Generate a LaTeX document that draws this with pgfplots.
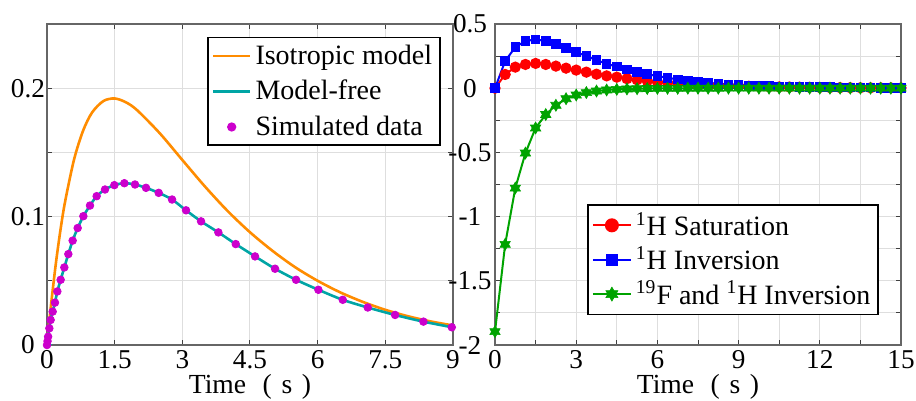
\documentclass[border=0pt]{standalone}
\usepackage{pgfplots}
\pgfplotsset{compat=1.18}
\usepackage{fontspec}
\setmainfont{Liberation Serif}
\usetikzlibrary{plotmarks}
\definecolor{orng}{HTML}{FF8C00}
\definecolor{teal2}{HTML}{00A5A5}
\definecolor{magd}{HTML}{CC00CC}
\definecolor{grn}{HTML}{00A300}

% filled six-point star (hexagram)
\pgfdeclareplotmark{hexstar}{%
  \pgfpathmoveto{\pgfpointpolar{90}{\pgfplotmarksize}}%
  \pgfpathlineto{\pgfpointpolar{120}{0.577\pgfplotmarksize}}%
  \pgfpathlineto{\pgfpointpolar{150}{\pgfplotmarksize}}%
  \pgfpathlineto{\pgfpointpolar{180}{0.577\pgfplotmarksize}}%
  \pgfpathlineto{\pgfpointpolar{210}{\pgfplotmarksize}}%
  \pgfpathlineto{\pgfpointpolar{240}{0.577\pgfplotmarksize}}%
  \pgfpathlineto{\pgfpointpolar{270}{\pgfplotmarksize}}%
  \pgfpathlineto{\pgfpointpolar{300}{0.577\pgfplotmarksize}}%
  \pgfpathlineto{\pgfpointpolar{330}{\pgfplotmarksize}}%
  \pgfpathlineto{\pgfpointpolar{0}{0.577\pgfplotmarksize}}%
  \pgfpathlineto{\pgfpointpolar{30}{\pgfplotmarksize}}%
  \pgfpathlineto{\pgfpointpolar{60}{0.577\pgfplotmarksize}}%
  \pgfpathclose
  \pgfusepathqfillstroke
}

\pgfplotsset{
  panel/.style={
    width=203pt,height=160.5pt,scale only axis,
    axis line style={draw=black!60,line width=0.6pt},
    tick style={draw=black!75,line width=0.5pt},
    major tick length=2.5pt,minor tick length=2.5pt,
    tick align=inside,
    grid=both,
    major grid style={draw=black!13,line width=0.5pt},
    minor grid style={draw=black!13,line width=0.5pt},
    tick label style={font=\rmfamily\fontsize{13.6}{15}\selectfont},
    /pgf/number format/assume math mode=true,
    xticklabel style={anchor=base,yshift=-11.8pt},
    xlabel style={font=\rmfamily\fontsize{13.8}{16}\selectfont,at={(axis description cs:0.5,0)},anchor=base,yshift=-24.5pt},
    xlabel={Time\hspace{0.6em}(\hspace{0.35em}s\hspace{0.35em})},
    legend style={font=\rmfamily\fontsize{14}{16}\selectfont,draw=black,line width=0.8pt,
      inner xsep=2pt,inner ysep=1.5pt},
    legend cell align=left,
  }
}

\begin{document}
\begin{tikzpicture}
\useasboundingbox (-23.5pt,-28pt) rectangle (434.5pt,172.5pt);

\begin{axis}[panel,at={(0pt,0pt)},anchor=south west,
  xmin=0,xmax=9,ymin=0,ymax=0.25,
  xtick={0,1.5,3,4.5,6,7.5,9},
  xticklabels={0,1.5,3,4.5,6,7.5,9},
  ytick={0,0.1,0.2},yticklabels={0,0.1,0.2},
  minor ytick={0.05,0.15,0.25},
  yticklabel style={anchor=center,xshift=-9.5pt},
  legend style={at={(rel axis cs:0.97,0.96)},anchor=north east,row sep=2.5pt},
]
\addplot[orng,line width=1.3pt,smooth,
  legend image code/.code={\draw[orng,line width=1.3pt] (0pt,0pt) -- (18.5pt,0pt);}] coordinates {
(0,0) (0.05,0.0180) (0.1,0.0347) (0.2,0.0645) (0.3,0.0899) (0.4,0.1114)
(0.6,0.1445) (0.8,0.1669) (1.0,0.1811) (1.25,0.1900) (1.5,0.1920)
(1.75,0.1890) (2.0,0.1828) (2.5,0.1649) (3.0,0.1441) (3.5,0.1235)
(4.0,0.1045) (4.5,0.0878) (5.0,0.0733) (5.5,0.0606) (6.0,0.0500)
(6.5,0.0410) (7.0,0.0336) (7.5,0.0274) (8.0,0.0224) (8.5,0.0184) (9.0,0.0152)};
\addlegendentry{Isotropic model}
\addplot[teal2,line width=1.3pt,
  legend image code/.code={\draw[teal2,line width=1.3pt] (0pt,0pt) -- (18.5pt,0pt);}] coordinates {(0,0) (0.1,0)};
\addlegendentry{Model-free}
\addplot[only marks,mark=*,mark size=1.9pt,draw=magd,fill=magd,
  legend image code/.code={\fill[magd] (9.25pt,0pt) circle (1.9pt);}] coordinates {
(0,0) (0.012,0.003) (0.025,0.0065) (0.052,0.013) (0.081,0.0195) (0.126,0.026)
(0.177,0.033) (0.229,0.0417) (0.303,0.0508) (0.384,0.0604) (0.473,0.0708)
(0.569,0.0813) (0.680,0.0911) (0.806,0.1003) (0.953,0.1086) (1.101,0.1159)
(1.286,0.1211) (1.493,0.1245) (1.715,0.1260) (1.951,0.1250) (2.195,0.1224)
(2.476,0.1185) (2.772,0.1133) (3.082,0.1049) (3.415,0.0963) (3.799,0.0877)
(4.184,0.0786) (4.612,0.0690) (5.055,0.0594) (5.521,0.0508) (6.016,0.0430)
(6.556,0.0352) (7.110,0.0292) (7.716,0.0234) (8.344,0.0182) (8.973,0.0138)};
\addlegendentry{Simulated data}
\addplot[teal2,line width=1.3pt,smooth,forget plot] coordinates {
(0,0) (0.025,0.0065) (0.052,0.013) (0.081,0.0195) (0.126,0.026)
(0.177,0.033) (0.229,0.0417) (0.303,0.0508) (0.384,0.0604) (0.473,0.0708)
(0.569,0.0813) (0.680,0.0911) (0.806,0.1003) (0.953,0.1086) (1.101,0.1159)
(1.286,0.1211) (1.493,0.1245) (1.715,0.1260) (1.951,0.1250) (2.195,0.1224)
(2.476,0.1185) (2.772,0.1133) (3.082,0.1049) (3.415,0.0963) (3.799,0.0877)
(4.184,0.0786) (4.612,0.0690) (5.055,0.0594) (5.521,0.0508) (6.016,0.0430)
(6.556,0.0352) (7.110,0.0292) (7.716,0.0234) (8.344,0.0182) (9,0.0137)};
\end{axis}

\begin{axis}[panel,at={(224pt,0pt)},anchor=south west,
  xmin=0,xmax=15,ymin=-2,ymax=0.5,
  xtick={0,3,6,9,12,15},xticklabels={0,3,6,9,12,15},
  minor xtick={1.5,4.5,7.5,10.5,13.5},
  ytick={-2,-1.5,-1,-0.5,0,0.5},
  yticklabels={-2,-1.5,-1,-0.5,0,0.5},
  minor ytick={-1.75,-1.25,-0.75,-0.25,0.25},
  yticklabel style={anchor=center,xshift=-12.5pt},
  legend style={at={(rel axis cs:0.946,0.093)},anchor=south east,row sep=0pt},
]
\addplot[red,line width=1pt,mark=*,mark size=2.3pt,mark options={fill=red},
  legend image code/.code={\draw[red,line width=1pt] (0pt,0pt) -- (19pt,0pt);
    \fill[red] (9.5pt,0pt) circle (3pt);}] coordinates {
(0,0) (0.375,0.107) (0.75,0.164) (1.125,0.185) (1.5,0.193) (1.875,0.185)
(2.25,0.172) (2.625,0.156) (3,0.141) (3.375,0.125) (3.75,0.109) (4.125,0.096)
(4.5,0.086) (4.875,0.074) (5.25,0.065) (5.625,0.057) (6,0.049) (6.375,0.043)
(6.75,0.038) (7.125,0.034) (7.5,0.030) (7.875,0.026) (8.25,0.023) (8.625,0.020)
(9,0.017) (9.375,0.015) (9.75,0.013) (10.125,0.011) (10.5,0.010) (10.875,0.009)
(11.25,0.008) (11.625,0.007) (12,0.006) (12.375,0.005) (12.75,0.0045)
(13.125,0.004) (13.5,0.0035) (13.875,0.003) (14.25,0.0027) (14.625,0.0024) (15,0.002)};
\addlegendentry{\textsuperscript{1}H Saturation}
\addplot[blue,line width=1pt,mark=square*,mark size=1.9pt,mark options={fill=blue},
  legend image code/.code={\draw[blue,line width=1pt] (0pt,0pt) -- (19pt,0pt);
    \fill[blue] (7pt,-2.5pt) rectangle (12pt,2.5pt);}] coordinates {
(0,0) (0.375,0.211) (0.75,0.320) (1.125,0.367) (1.5,0.380) (1.875,0.367)
(2.25,0.346) (2.625,0.315) (3,0.281) (3.375,0.250) (3.75,0.219) (4.125,0.190)
(4.5,0.168) (4.875,0.146) (5.25,0.128) (5.625,0.109) (6,0.094) (6.375,0.081)
(6.75,0.069) (7.125,0.058) (7.5,0.050) (7.875,0.042) (8.25,0.035) (8.625,0.029)
(9,0.025) (9.375,0.022) (9.75,0.019) (10.125,0.016) (10.5,0.014) (10.875,0.012)
(11.25,0.011) (11.625,0.009) (12,0.008) (12.375,0.007) (12.75,0.006)
(13.125,0.005) (13.5,0.0045) (13.875,0.004) (14.25,0.0035) (14.625,0.003) (15,0.0026)};
\addlegendentry{\textsuperscript{1}H Inversion}
\addplot[grn,line width=1pt,mark=hexstar,mark size=3pt,mark options={fill=grn,line width=0.3pt},
  legend image code/.code={\draw[grn,line width=1pt] (0pt,0pt) -- (19pt,0pt);
    \draw[grn,fill=grn,line width=0.3pt] plot[mark=hexstar,mark size=3.5pt] coordinates {(9.5pt,0pt)};}] coordinates {
(0,-1.896) (0.375,-1.216) (0.75,-0.778) (1.125,-0.505) (1.5,-0.31) (1.875,-0.205)
(2.25,-0.133) (2.625,-0.082) (3,-0.053) (3.375,-0.034) (3.75,-0.022) (4.125,-0.014)
(4.5,-0.009) (4.875,-0.006) (5.25,-0.004) (5.625,-0.0025) (6,-0.0016) (6.375,-0.001)
(6.75,-0.0007) (7.125,-0.0004) (7.5,-0.0003) (7.875,-0.0002) (8.25,-0.0001)
(8.625,0) (9,0) (9.375,0) (9.75,0) (10.125,0) (10.5,0) (10.875,0) (11.25,0)
(11.625,0) (12,0) (12.375,0) (12.75,0) (13.125,0) (13.5,0) (13.875,0) (14.25,0)
(14.625,0) (15,0)};
\addlegendentry{\textsuperscript{19}F and \textsuperscript{1}H Inversion}
\end{axis}
\end{tikzpicture}
\end{document}
